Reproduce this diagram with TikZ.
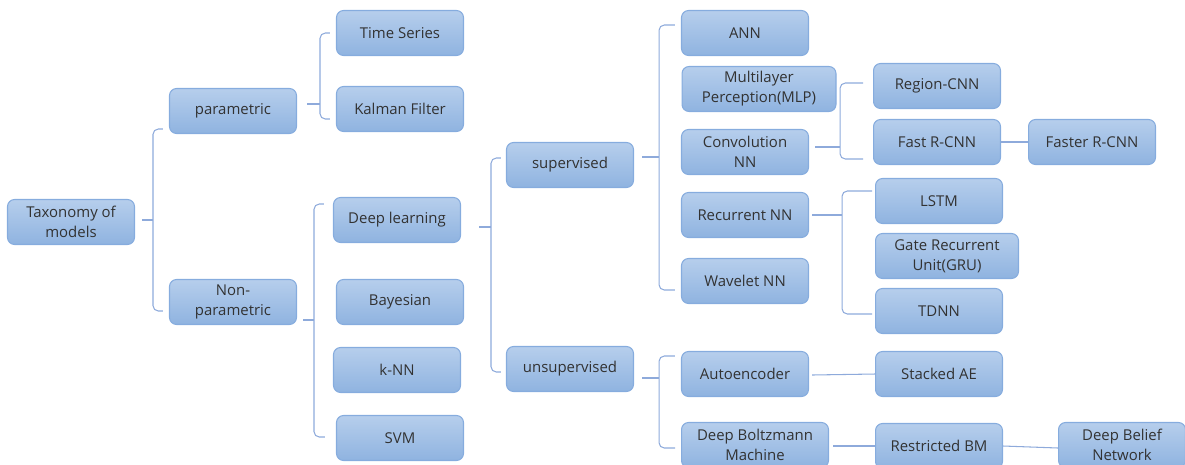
\documentclass[tikz,border=0pt]{standalone}
\usepackage{fontspec}
\setmainfont{Open Sans}
\usetikzlibrary{calc}

\definecolor{boxtop}{RGB}{182,206,236}
\definecolor{boxbot}{RGB}{143,179,224}
\definecolor{boxline}{RGB}{134,172,222}
\definecolor{linkcol}{RGB}{142,170,219}
\definecolor{txt}{RGB}{50,50,50}

\tikzset{
  box/.style={draw=boxline, line width=0.6pt, rounded corners=4pt,
    top color=boxtop, bottom color=boxbot, text=txt, align=center,
    minimum width=2.54cm, minimum height=0.9cm, inner sep=2pt,
    font=\fontsize{8.5}{11.3}\selectfont},
  link/.style={draw=linkcol, line width=0.6pt, rounded corners=3pt}
}

\begin{document}
\begin{tikzpicture}[x=0.02cm,y=-0.02cm]
  \useasboundingbox (0,0) rectangle (1185,464);
  \clip (0,0) rectangle (1185,464);

  % first and second level
  \node[box] (tax) at (71,222) {Taxonomy of\\models};
  \node[box] (par) at (233,111) {parametric};
  \node[box] (npar) at (233,302) {Non-\\parametric};

  \node[box] (ts) at (400,33) {Time Series};
  \node[box] (kf) at (400,109) {Kalman Filter};
  \node[box] (dl) at (397,220) {Deep learning};
  \node[box] (bay) at (400,302) {Bayesian};
  \node[box] (knn) at (397,370) {k-NN};
  \node[box] (svm) at (400,438) {SVM};

  \node[box] (sup) at (570,165) {supervised};
  \node[box] (unsup) at (570,369) {unsupervised};

  % deep models
  \node[box] (ann) at (745,33) {ANN};
  \node[box, minimum width=3.08cm] (mlp) at (759,89) {Multilayer\\Perception(MLP)};
  \node[box] (cnn) at (745,152) {Convolution\\NN};
  \node[box] (rnn) at (745,215) {Recurrent NN};
  \node[box] (wnn) at (745,281) {Wavelet NN};
  \node[box] (ae) at (745,374) {Autoencoder};
  \node[box, minimum width=2.94cm] (dbm) at (755,445) {Deep Boltzmann\\Machine};

  \node[box] (rcnn) at (937,86) {Region-CNN};
  \node[box] (fast) at (937,142) {Fast R-CNN};
  \node[box] (faster) at (1092,142) {Faster R-CNN};
  \node[box] (lstm) at (939,201) {LSTM};
  \node[box, minimum width=2.86cm] (gru) at (947,256) {Gate Recurrent\\Unit(GRU)};
  \node[box] (tdnn) at (939,311) {TDNN};
  \node[box] (sae) at (939,374) {Stacked AE};
  \node[box] (rbm) at (939,446) {Restricted BM};
  \node[box] (dbn) at (1122,445) {Deep Belief\\Network};

  % brackets
  \draw[link] ([shift={(7,-2)}]tax.east) -- ++(11,0) coordinate (j1);
  \draw[link] ([shift={(-6,18)}]par.west) -| (j1) |- ([shift={(-6,9)}]npar.west);

  \draw[link] ([shift={(10,-7)}]par.east) -- ++(13,0) coordinate (j2);
  \draw[link] ([shift={(-6,0)}]ts.west) -| (j2) |- ([shift={(-6,10)}]kf.west);

  \draw[link] ([shift={(6,18)}]npar.east) -- ++(11,0) coordinate (j3);
  \draw[link] ([shift={(-9,-16)}]dl.west) -| (j3) |- ([shift={(-11,-1)}]svm.west);

  \draw[link] ([shift={(18,7)}]dl.east) -- ++(12,0) coordinate (j4);
  \draw[link] ([shift={(-5,-7)}]sup.west) -| (j4) |- ([shift={(-5,3)}]unsup.west);

  \draw[link] ([shift={(8,-8)}]sup.east) -- ++(17,0) coordinate (j5);
  \draw[link] ([shift={(-6,-8)}]ann.west) -| (j5) |- ([shift={(-6,9)}]wnn.west);

  \draw[link] ([shift={(8,9)}]unsup.east) -- ++(17,0) coordinate (j6);
  \draw[link] ([shift={(-6,-18)}]ae.west) -| (j6) |- ([shift={(-6,3)}]dbm.west);

  \draw[link] ([shift={(6,-5)}]cnn.east) -- ++(25,0) coordinate (j7);
  \draw[link] ([shift={(-10,-3)}]rcnn.west) -| (j7) |- ([shift={(-10,17)}]fast.west);

  \draw[link] ([shift={(3,0)}]rnn.east) -- ++(30,0) coordinate (j8);
  \draw[link] ([shift={(-3,-10)}]lstm.west) -| (j8) |- ([shift={(-3,3)}]tdnn.west);

  % straight links
  \draw[link] (fast.east) -- (faster.west);
  \draw[link] ([shift={(3,1)}]ae.east) -- (sae.west);
  \draw[link] ([shift={(4,1)}]dbm.east) -- (rbm.west);
  \draw[link] (rbm.east) -- ([shift={(0,3)}]dbn.west);
\end{tikzpicture}
\end{document}
